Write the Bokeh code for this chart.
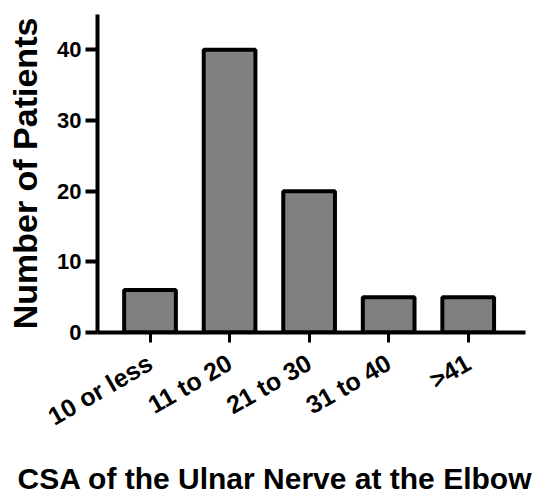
import math
from bokeh.plotting import figure
from bokeh.models import ColumnDataSource, Range1d, FixedTicker, Title, LinearAxis
from bokeh.embed import file_html
from bokeh.resources import INLINE

categories = ["10 or less", "11 to 20", "21 to 30", "31 to 40", ">41"]
patients = [6, 40, 20, 5, 5]
y_ticks = [0, 10, 20, 30, 40]
x_title = "CSA of the Ulnar Nerve at the Elbow"
y_title = "Number of Patients"

xs = list(range(len(categories)))
src = ColumnDataSource(dict(x=xs, top=patients))

p = figure(width=534, height=496, output_backend="svg", toolbar_location=None,
           x_range=Range1d(-0.66, 4.72), y_range=Range1d(0, 45),
           min_border_left=97, min_border_right=9, min_border_top=14,
           min_border_bottom=164)
p.vbar(x="x", top="top", width=0.65, source=src, fill_color="#808080",
       line_color="black", line_width=4)

p.grid.visible = False
p.outline_line_color = None
p.background_fill_color = "white"
p.border_fill_color = "white"

FONT = "Liberation Sans"
xa = p.xaxis[0]
xa.ticker = FixedTicker(ticks=xs)
xa.major_label_overrides = {i: c for i, c in enumerate(categories)}
xa.major_label_orientation = math.pi / 6
xa.minor_tick_line_color = None
xa.axis_line_width = 4
xa.axis_line_color = "black"
xa.major_tick_line_width = 3
xa.major_tick_in = 0
xa.major_tick_out = 10
xa.major_label_text_font = FONT
xa.major_label_text_font_style = "bold"
xa.major_label_text_font_size = "25px"
xa.major_label_text_color = "black"
xa.major_label_standoff = 18

# blank spacer axis (white tick on white border, no labels) to push the title down
spacer = LinearAxis(ticker=FixedTicker(ticks=[-0.6]), axis_line_color=None,
                    major_tick_line_color="white", minor_tick_line_color=None,
                    major_label_text_color=None,
                    major_tick_in=0, major_tick_out=14, minor_tick_out=0)
p.add_layout(spacer, "below")

# x-axis title, left-aligned with a negative offset so it sits centred on the figure
p.add_layout(Title(text=x_title, align="left", offset=-80, text_font=FONT,
                   text_font_style="bold", text_font_size="30px",
                   text_color="black", standoff=0), "below")

ya = p.yaxis[0]
ya.ticker = FixedTicker(ticks=y_ticks)
ya.minor_tick_line_color = None
ya.axis_line_width = 4
ya.axis_line_color = "black"
ya.major_tick_line_width = 4
ya.major_tick_in = 0
ya.major_tick_out = 12
ya.major_label_text_font = FONT
ya.major_label_text_font_style = "bold"
ya.major_label_text_font_size = "22px"
ya.major_label_text_color = "black"
ya.major_label_standoff = 4
ya.axis_label = y_title
ya.axis_label_text_font = FONT
ya.axis_label_text_font_style = "bold"
ya.axis_label_text_font_size = "34px"
ya.axis_label_text_color = "black"
ya.axis_label_standoff = 10

open("out.html", "w").write(file_html(p, INLINE))
